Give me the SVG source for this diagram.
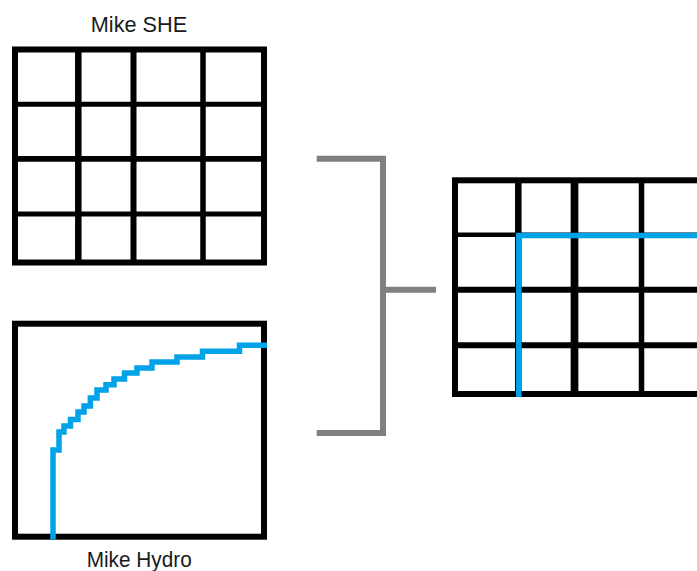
<svg xmlns="http://www.w3.org/2000/svg" width="697" height="571" viewBox="0 0 697 571">
<style>
  .bg{fill:#ffffff}
  .grid{fill:none;stroke:#000000;stroke-linecap:butt}
  .blue{fill:none;stroke:#00A2E8;stroke-linejoin:miter;stroke-linecap:butt}
  .brk{fill:none;stroke:#808080;stroke-width:6;stroke-linecap:butt;stroke-linejoin:miter}
  .lbl{font-family:"Liberation Sans",Arial,sans-serif;font-size:21.5px;fill:#1a1a1a;text-anchor:middle}
</style>
<rect class="bg" x="0" y="0" width="697" height="571"/>
<g id="mike-she">
  <rect class="grid" x="15" y="49.5" width="249" height="213" stroke-width="6"/>
  <line class="grid" x1="78.3" y1="49.5" x2="78.3" y2="262.5" stroke-width="6.5"/>
  <line class="grid" x1="133.5" y1="49.5" x2="133.5" y2="262.5" stroke-width="6"/>
  <line class="grid" x1="203" y1="49.5" x2="203" y2="262.5" stroke-width="5.5"/>
  <line class="grid" x1="15" y1="104.2" x2="264" y2="104.2" stroke-width="5"/>
  <line class="grid" x1="15" y1="158.8" x2="264" y2="158.8" stroke-width="5.8"/>
  <line class="grid" x1="15" y1="214" x2="264" y2="214" stroke-width="5"/>
  <text class="lbl" x="139" y="31.5" textLength="96.5" lengthAdjust="spacingAndGlyphs">Mike SHE</text>
</g>
<g id="mike-hydro">
  <rect class="grid" x="15" y="323.7" width="249" height="213" stroke-width="6"/>
  <path class="blue" stroke-width="5.5" d="M53,539.5 V450 H59 V432 H64 V426 H70.5 V419.5 H78 V412 H84 V406 H90.3 V398 H97 V390 H106 V384.7 H114 V379 H124.5 V373 H137 V368 H152 V362 H177 V357 H202.5 V351.3 H239.5 V345.3 H267"/>
  <text class="lbl" x="139.2" y="567.3" textLength="105" lengthAdjust="spacingAndGlyphs">Mike Hydro</text>
</g>
<g id="combined">
  <rect class="grid" x="455" y="180.3" width="300" height="213.7" stroke-width="6"/>
  <line class="grid" x1="518.3" y1="180.3" x2="518.3" y2="394" stroke-width="6.5"/>
  <line class="grid" x1="574.5" y1="180.3" x2="574.5" y2="394" stroke-width="7.7"/>
  <line class="grid" x1="641.5" y1="180.3" x2="641.5" y2="394" stroke-width="5.5"/>
  <line class="grid" x1="455" y1="234.7" x2="700" y2="234.7" stroke-width="4.5"/>
  <line class="grid" x1="455" y1="289.7" x2="700" y2="289.7" stroke-width="6"/>
  <line class="grid" x1="455" y1="345.3" x2="700" y2="345.3" stroke-width="6"/>
  <path class="blue" stroke-width="5.5" d="M518.8,397 V235.5 H700"/>
</g>
<g id="connectors">
  <path class="brk" d="M316.7,158.7 H383 V433 H316.7"/>
  <line class="brk" x1="383" y1="289.7" x2="436" y2="289.7"/>
</g>
</svg>
